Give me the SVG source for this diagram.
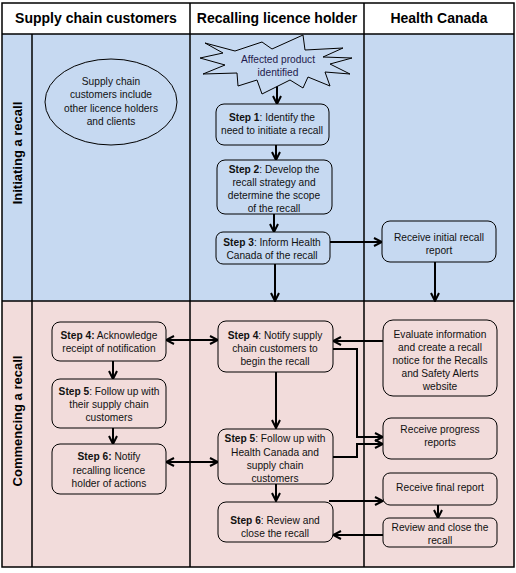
<svg xmlns="http://www.w3.org/2000/svg" width="516" height="573" viewBox="0 0 516 573">
<style>
.grid{stroke:#000;stroke-width:1.5;fill:none}
.hdr{font-family:"Liberation Sans",Arial,sans-serif;font-size:14px;font-weight:bold;text-anchor:middle;fill:#000}
.lane{font-family:"Liberation Sans",Arial,sans-serif;font-size:13px;font-weight:bold;text-anchor:middle;fill:#000}
.t{font-family:"Liberation Sans",Arial,sans-serif;font-size:10.2px;text-anchor:middle;fill:#111}
.b{font-weight:bold}
.bb{fill:#c6d9f1;stroke:#000;stroke-width:1}
.pb{fill:#f2dcdb;stroke:#000;stroke-width:1}
.c{stroke:#000;stroke-width:2;fill:none;marker-end:url(#ah)}
.d{stroke:#000;stroke-width:2;fill:none;marker-end:url(#ah);marker-start:url(#ah)}
</style>
<defs>
<marker id="ah" viewBox="0 0 10 10" refX="9" refY="5" markerWidth="10" markerHeight="10" markerUnits="userSpaceOnUse" orient="auto-start-reverse">
<path d="M1,1 L9,5 L1,9" fill="none" stroke="#000" stroke-width="2"/>
</marker>
</defs>
<rect x="0" y="0" width="516" height="573" fill="#fff"/>
<g id="lanes">
<rect x="2" y="34" width="512" height="267" fill="#c6d9f1"/>
<rect x="2" y="301" width="512" height="266" fill="#f2dcdb"/>
<rect class="grid" x="2" y="3" width="512" height="564"/>
<line class="grid" x1="2" y1="34" x2="514" y2="34"/>
<line class="grid" x1="2" y1="301" x2="514" y2="301"/>
<line class="grid" x1="190" y1="3" x2="190" y2="567"/>
<line class="grid" x1="364" y1="3" x2="364" y2="567"/>
<line class="grid" x1="32" y1="34" x2="32" y2="567"/>
<text class="hdr" x="96" y="23">Supply chain customers</text>
<text class="hdr" x="277" y="23">Recalling licence holder</text>
<text class="hdr" x="439" y="23">Health Canada</text>
<text class="lane" transform="translate(22,153) rotate(-90)">Initiating a recall</text>
<text class="lane" transform="translate(22,421) rotate(-90)">Commencing a recall</text>
</g>
<g id="connectors">
<line class="c" x1="277" y1="84" x2="277" y2="104"/>
<line class="c" x1="276" y1="145" x2="276" y2="160"/>
<line class="c" x1="274" y1="214" x2="274" y2="232"/>
<line class="c" x1="330" y1="242" x2="382" y2="242"/>
<line class="c" x1="275" y1="264" x2="275" y2="301"/>
<line class="c" x1="435" y1="262" x2="435" y2="301"/>
<line class="d" x1="166" y1="340" x2="218" y2="340"/>
<line class="c" x1="383" y1="341" x2="333" y2="341"/>
<path class="c" d="M333,349 H357 V437 H383"/>
<line class="c" x1="276" y1="372" x2="276" y2="428"/>
<line class="d" x1="166" y1="462" x2="218" y2="462"/>
<path class="c" d="M333,457 H357 V444 H383"/>
<line class="c" x1="276" y1="484" x2="276" y2="501"/>
<line class="c" x1="329" y1="501" x2="383" y2="501"/>
<line class="c" x1="438" y1="505" x2="438" y2="518"/>
<line class="c" x1="383" y1="535" x2="333" y2="535"/>
<line class="c" x1="113" y1="361" x2="113" y2="379"/>
<line class="c" x1="113" y1="428" x2="113" y2="444"/>
</g>
<g id="customers-note">
<ellipse class="bb" cx="111" cy="102" rx="66" ry="43"/>
<text class="t" x="111" y="85">Supply chain</text>
<text class="t" x="111" y="98">customers include</text>
<text class="t" x="111" y="112">other licence holders</text>
<text class="t" x="111" y="125">and clients</text>
</g>
<g id="affected-product">
<polygon class="bb" points="205,43 235,51 262,42 272,49 303,35 305,50 343,48 323,57 352,58 330,64 350,74 325,72 330,86 308,77 303,88 290,80 262,94 257,80 238,86 237,73 203,74 225,65 200,58 223,53"/>
<text class="t" x="278" y="63" style="fill:#1f1a4d">Affected product</text>
<text class="t" x="278" y="76" style="fill:#1f1a4d">identified</text>
</g>
<g id="step1">
<rect class="bb" x="216" y="104" width="113" height="41" rx="8"/>
<text class="t" x="272" y="121"><tspan class="b">Step 1</tspan>: Identify the</text>
<text class="t" x="272" y="134">need to initiate a recall</text>
</g>
<g id="step2">
<rect class="bb" x="217" y="160" width="115" height="54" rx="8"/>
<text class="t" x="274" y="173"><tspan class="b">Step 2</tspan>: Develop the</text>
<text class="t" x="274" y="186">recall strategy and</text>
<text class="t" x="274" y="199">determine the scope</text>
<text class="t" x="274" y="212">of the recall</text>
</g>
<g id="step3">
<rect class="bb" x="216" y="232" width="114" height="32" rx="7"/>
<text class="t" x="272" y="246"><tspan class="b">Step 3</tspan>: Inform Health</text>
<text class="t" x="272" y="259">Canada of the recall</text>
</g>
<g id="hc-initial">
<rect class="bb" x="382" y="221" width="114" height="41" rx="8"/>
<text class="t" x="439" y="241">Receive initial recall</text>
<text class="t" x="439" y="254">report</text>
</g>
<g id="sc-step4">
<rect class="pb" x="52" y="322" width="114" height="39" rx="8"/>
<text class="t" x="109" y="339"><tspan class="b">Step 4:</tspan> Acknowledge</text>
<text class="t" x="109" y="352">receipt of notification</text>
</g>
<g id="sc-step5">
<rect class="pb" x="52" y="379" width="114" height="49" rx="8"/>
<text class="t" x="109" y="395"><tspan class="b">Step 5</tspan>: Follow up with</text>
<text class="t" x="109" y="408">their supply chain</text>
<text class="t" x="109" y="421">customers</text>
</g>
<g id="sc-step6">
<rect class="pb" x="52" y="444" width="114" height="50" rx="8"/>
<text class="t" x="109" y="460"><tspan class="b">Step 6:</tspan> Notify</text>
<text class="t" x="109" y="474">recalling licence</text>
<text class="t" x="109" y="487">holder of actions</text>
</g>
<g id="rlh-step4">
<rect class="pb" x="218" y="321" width="115" height="51" rx="8"/>
<text class="t" x="275" y="339"><tspan class="b">Step 4</tspan>: Notify supply</text>
<text class="t" x="275" y="352">chain customers to</text>
<text class="t" x="275" y="365">begin the recall</text>
</g>
<g id="rlh-step5">
<rect class="pb" x="218" y="429" width="115" height="55" rx="8"/>
<text class="t" x="275" y="442"><tspan class="b">Step 5</tspan>: Follow up with</text>
<text class="t" x="275" y="456">Health Canada and</text>
<text class="t" x="275" y="469">supply chain</text>
<text class="t" x="275" y="482">customers</text>
</g>
<g id="rlh-step6">
<rect class="pb" x="218" y="502" width="115" height="40" rx="8"/>
<text class="t" x="275" y="524"><tspan class="b">Step 6</tspan>: Review and</text>
<text class="t" x="275" y="537">close the recall</text>
</g>
<g id="hc-evaluate">
<rect class="pb" x="383" y="320" width="114" height="76" rx="10"/>
<text class="t" x="440" y="338">Evaluate information</text>
<text class="t" x="440" y="351">and create a recall</text>
<text class="t" x="440" y="364">notice for the Recalls</text>
<text class="t" x="440" y="377">and Safety Alerts</text>
<text class="t" x="440" y="390">website</text>
</g>
<g id="hc-progress">
<rect class="pb" x="383" y="418" width="114" height="41" rx="8"/>
<text class="t" x="440" y="433">Receive progress</text>
<text class="t" x="440" y="446">reports</text>
</g>
<g id="hc-final">
<rect class="pb" x="383" y="473" width="114" height="32" rx="7"/>
<text class="t" x="440" y="491">Receive final report</text>
</g>
<g id="hc-close">
<rect class="pb" x="383" y="518" width="114" height="29" rx="6"/>
<text class="t" x="440" y="531">Review and close the</text>
<text class="t" x="440" y="544">recall</text>
</g>
</svg>
